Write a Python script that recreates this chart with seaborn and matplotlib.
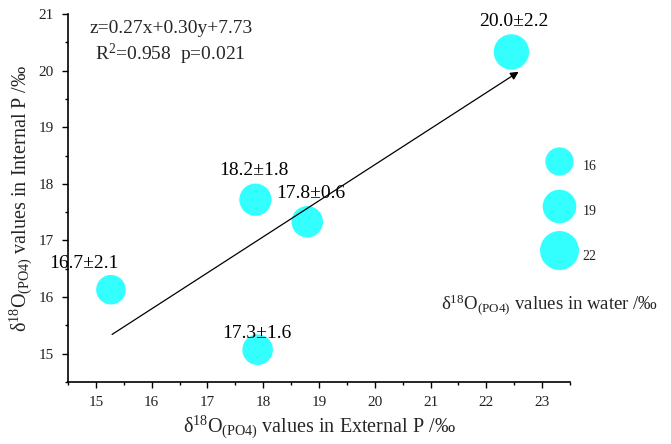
import numpy as np
import pandas as pd
import matplotlib
matplotlib.use("Agg")
import matplotlib.pyplot as plt
from matplotlib.lines import Line2D
from matplotlib.ticker import MultipleLocator
import seaborn as sns

# ---- data ----
ext_p = [15.27, 17.90, 17.86, 18.79, 22.45]        # external P delta18O
int_p = [16.13, 15.07, 17.72, 17.33, 20.33]        # internal P delta18O
water_mean = [16.7, 17.3, 18.2, 17.8, 20.0]        # water delta18O (bubble size)
water_sd = [2.1, 1.6, 1.8, 0.6, 2.2]
legend_levels = [16, 19, 22]
arrow_start = (15.29, 15.34)
arrow_end = (22.58, 19.98)
equation = "z=0.27x+0.30y+7.73"
stats_text = "R$^2$=0.958  p=0.021"

sns.set_theme(style="ticks")
plt.rcParams["font.family"] = ["Liberation Serif", "DejaVu Serif"]
plt.rcParams["mathtext.fontset"] = "custom"
plt.rcParams["mathtext.rm"] = "Liberation Serif"
plt.rcParams["mathtext.it"] = "Liberation Serif:italic"
plt.rcParams["mathtext.bf"] = "Liberation Serif:bold"

color = "#33FFFF"
k = 1.274  # marker diameter (pt) per unit of water value


def area(v):
    return (k * v) ** 2


df = pd.DataFrame({"ext": ext_p, "int": int_p, "water": water_mean})
size_map = {v: area(v) for v in df["water"].unique()}

fig = plt.figure(figsize=(6.71, 4.44), dpi=100)
ax = fig.add_axes([68 / 671, 1 - 382 / 444, (570 - 68) / 671, (382 - 14) / 444])

sns.scatterplot(data=df, x="ext", y="int", size="water", sizes=size_map,
                color=color, linewidth=0, alpha=1, legend=False, ax=ax, zorder=3)

# value labels
offsets = [(-0.49, 0.47), (-0.01, 0.28), (-0.02, 0.51), (0.07, 0.50), (0.04, 0.54)]
for x, y, m, s, (dx, dy) in zip(ext_p, int_p, water_mean, water_sd, offsets):
    ax.text(x + dx, y + dy, f"{m:.1f}±{s:.1f}", ha="center", va="center",
            fontsize=14, color="black", zorder=5)

# arrow
ax.annotate("", xy=arrow_end, xytext=arrow_start,
            arrowprops=dict(arrowstyle="-|>", color="black", lw=0.9,
                            mutation_scale=12, shrinkA=0, shrinkB=0), zorder=4)

# equation
ax.text(16.34, 20.75, equation, ha="center", va="center", fontsize=14)
ax.text(16.34, 20.28, stats_text, ha="center", va="center", fontsize=14)

ax.set_xlim(14.5, 23.5)
ax.set_ylim(14.5, 21)
ax.xaxis.set_major_locator(MultipleLocator(1))
ax.xaxis.set_minor_locator(MultipleLocator(0.5))
ax.yaxis.set_major_locator(MultipleLocator(1))
ax.yaxis.set_minor_locator(MultipleLocator(0.5))
ax.tick_params(which="major", direction="out", length=4, width=1, labelsize=11,
               color="black", labelcolor="#222222", pad=6)
ax.tick_params(which="minor", direction="out", length=2.4, width=1, color="black")
sns.despine(ax=ax)
for sp in ["left", "bottom"]:
    ax.spines[sp].set_linewidth(1.2)
    ax.spines[sp].set_color("black")

ax.set_xlabel(r"δ$^{18}$O$_{\mathrm{(PO4)}}$ values in External P /‰", fontsize=14.5, labelpad=4)
ax.set_ylabel(r"δ$^{18}$O$_{\mathrm{(PO4)}}$ values in Internal P /‰", fontsize=14.5, labelpad=3)

# size legend
handles = [Line2D([0], [0], marker="o", linestyle="", markerfacecolor=color,
                  markeredgewidth=0, markersize=np.sqrt(area(v))) for v in legend_levels]
leg = fig.legend(handles, [str(v) for v in legend_levels],
                 loc="center left", bbox_to_anchor=((558.7 - 12.0) / 671, 1 - 210.5 / 444),
                 bbox_transform=fig.transFigure, frameon=False, fontsize=10,
                 handlelength=1.7, handleheight=2.75, labelspacing=1.2,
                 handletextpad=0.88, borderpad=0, borderaxespad=0)
for t in leg.get_texts():
    t.set_color("#222222")
fig.text(550 / 671, 1 - 305 / 444, r"δ$^{18}$O$_{\mathrm{(PO4)}}$ values in water /‰",
         ha="center", va="center", fontsize=13.5)

fig.savefig("out.png", dpi=100)
